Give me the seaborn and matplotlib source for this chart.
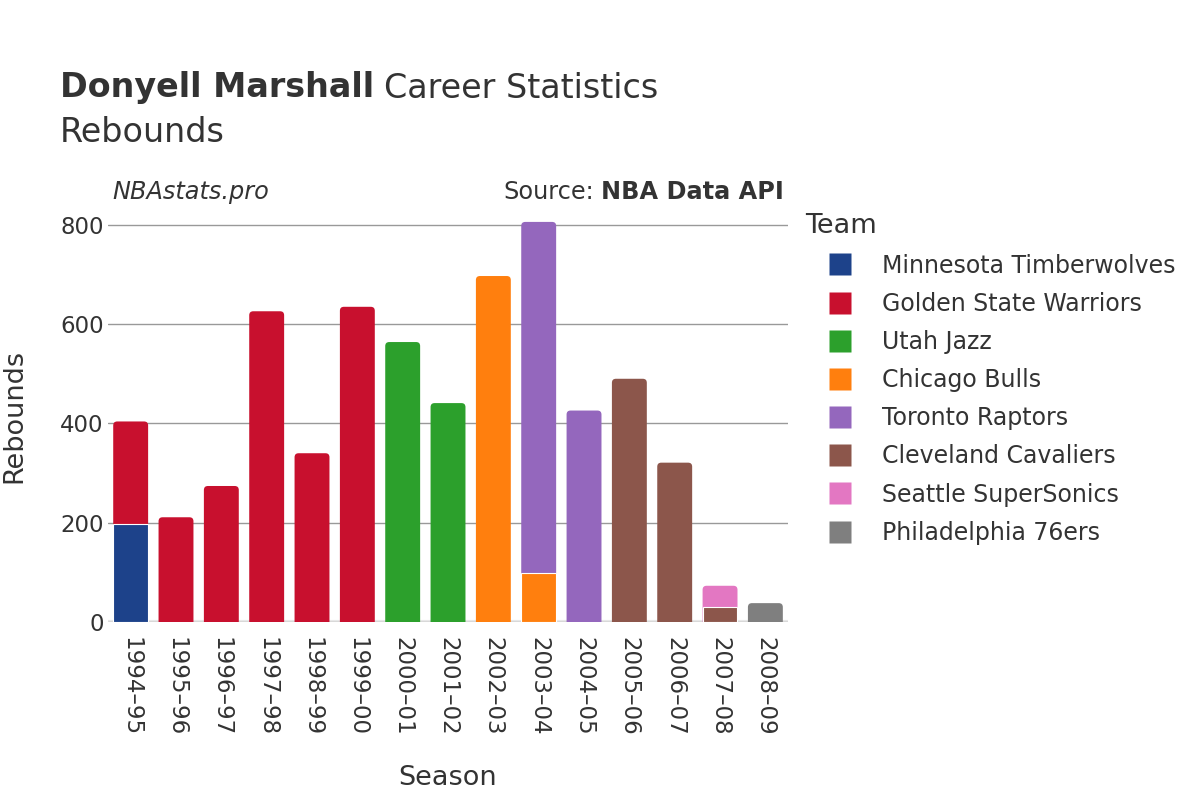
import numpy as np
import pandas as pd
import matplotlib
matplotlib.use("Agg")
import matplotlib.pyplot as plt
import seaborn as sns
from matplotlib.lines import Line2D
from matplotlib.patches import FancyBboxPatch

# --- data --- #
seasons = ["1994–95", "1995–96", "1996–97", "1997–98", "1998–99", "1999–00", "2000–01",
           "2001–02", "2002–03", "2003–04", "2004–05", "2005–06", "2006–07", "2007–08", "2008–09"]

team_names = ["Minnesota Timberwolves", "Golden State Warriors", "Utah Jazz", "Chicago Bulls",
              "Toronto Raptors", "Cleveland Cavaliers", "Seattle SuperSonics", "Philadelphia 76ers"]
team_colors = ["#1d428a", "#c8102e", "#2ca02c", "#ff7f0e", "#9467bd", "#8c564b", "#e377c2", "#7f7f7f"]

# one entry per season/team stint, in stacking order (bottom first)
rec_season = ["1994–95", "1994–95", "1995–96", "1996–97", "1997–98", "1998–99", "1999–00", "2000–01",
              "2001–02", "2002–03", "2003–04", "2003–04", "2004–05", "2005–06", "2006–07",
              "2007–08", "2007–08", "2008–09"]
rec_team = ["Minnesota Timberwolves", "Golden State Warriors", "Golden State Warriors",
            "Golden State Warriors", "Golden State Warriors", "Golden State Warriors",
            "Golden State Warriors", "Utah Jazz", "Utah Jazz", "Chicago Bulls", "Chicago Bulls",
            "Toronto Raptors", "Toronto Raptors", "Cleveland Cavaliers", "Cleveland Cavaliers",
            "Cleveland Cavaliers", "Seattle SuperSonics", "Philadelphia 76ers"]
rec_reb = [197, 207, 211, 274, 626, 340, 635, 564, 441, 697, 99, 707, 426, 490, 321, 30, 43, 38]

palette = dict(zip(team_names, team_colors))

df = pd.DataFrame({"Season": rec_season, "Team": rec_team, "Rebounds": rec_reb})
df["layer"] = df.groupby("Season").cumcount()
df["top"] = df.groupby("Season")["Rebounds"].cumsum()
totals = df.groupby("Season")["Rebounds"].sum().reindex(seasons).values

# --- plot --- #
sns.set_style("white")
plt.rcParams["font.family"] = ["DejaVu Sans"]
text_col = "#333333"

fig = plt.figure(figsize=(12, 8), dpi=100)
ax = fig.add_axes([0.09, 0.2225, 0.5667, 0.515])

for layer in sorted(df["layer"].unique(), reverse=True):
    sub = df[df["layer"] == layer]
    sns.barplot(data=sub, x="Season", y="top", hue="Team", palette=palette, order=seasons,
                hue_order=team_names, dodge=False, width=0.77, legend=False, ax=ax,
                edgecolor="white", linewidth=0.8 if layer == 0 else 0, saturation=1)

ymax = 830
ax.set_xlim(-0.5, len(seasons) - 0.5)
ax.set_ylim(0, ymax)

# round the top corners of each season's outer bar
fig.canvas.draw()
px_x = ax.bbox.width / len(seasons)
px_y = ax.bbox.height / ymax
rad = 4 / px_x
for p in list(ax.patches):
    h = p.get_height()
    if h <= 0:
        continue
    i = int(round(p.get_x() + p.get_width() / 2))
    if abs(h - totals[i]) > 1e-6:
        continue
    rp = FancyBboxPatch((p.get_x(), -30), p.get_width(), h + 30,
                        boxstyle=f"round,pad=0,rounding_size={rad}",
                        mutation_aspect=px_x / px_y, facecolor=p.get_facecolor(),
                        edgecolor="none", zorder=p.get_zorder() - 0.1, clip_on=True)
    p.remove()
    ax.add_patch(rp)

ax.set_yticks([0, 200, 400, 600, 800])
ax.yaxis.grid(True, color="#999999", linewidth=1)
ax.set_axisbelow(True)
for s in ax.spines.values():
    s.set_visible(False)
ax.axhline(0, color="#e8e8e8", linewidth=3, zorder=0.5)

ax.tick_params(axis="y", length=0, labelsize=16.5, colors=text_col, pad=3)
ax.tick_params(axis="x", length=0, labelsize=16.5, colors=text_col, pad=11)
ax.set_xticks(range(len(seasons)))
ax.set_xticklabels(seasons, rotation=-90, va="top", ha="center")
ax.set_xlabel("Season", fontsize=19.5, color=text_col, va="center")
ax.set_ylabel("Rebounds", fontsize=19.5, color=text_col, va="center")
ax.xaxis.set_label_coords(0.5, -0.379)
ax.yaxis.set_label_coords(-0.137, 0.5)

# title with bold player name
r = fig.canvas.get_renderer()
t1 = fig.text(0.05, 0.89, "Donyell Marshall", fontsize=24, fontweight="bold", color=text_col, va="center")
bb = t1.get_window_extent(renderer=r)
fig.text(bb.x1 / 1200 + 0.008, 0.89, "Career Statistics", fontsize=24, color=text_col, va="center")
fig.text(0.05, 0.835, "Rebounds", fontsize=24, color=text_col, va="center")

fig.text(0.094, 0.76, "NBAstats.pro", fontsize=17.3, style="italic", color=text_col, va="center")
s2 = fig.text(0.6535, 0.76, "NBA Data API", fontsize=17.3, fontweight="bold", color=text_col,
              va="center", ha="right")
bb2 = s2.get_window_extent(renderer=r)
fig.text(bb2.x0 / 1200 - 0.006, 0.76, "Source:", fontsize=17.3, color=text_col, va="center", ha="right")

# legend
fig.text(0.671, 0.717, "Team", fontsize=19.5, color=text_col, va="center")
handles = [Line2D([], [], linestyle="none", marker="s", markersize=16, markerfacecolor=c,
                  markeredgecolor="none") for c in team_colors]
leg = fig.legend(handles, team_names, loc="upper left", bbox_to_anchor=(0.69, 0.683),
                 frameon=False, fontsize=17, handlelength=1.0, handletextpad=1.3,
                 labelspacing=0.6, borderaxespad=0, borderpad=0)
for t in leg.get_texts():
    t.set_color(text_col)

fig.savefig("out.png", dpi=100)
